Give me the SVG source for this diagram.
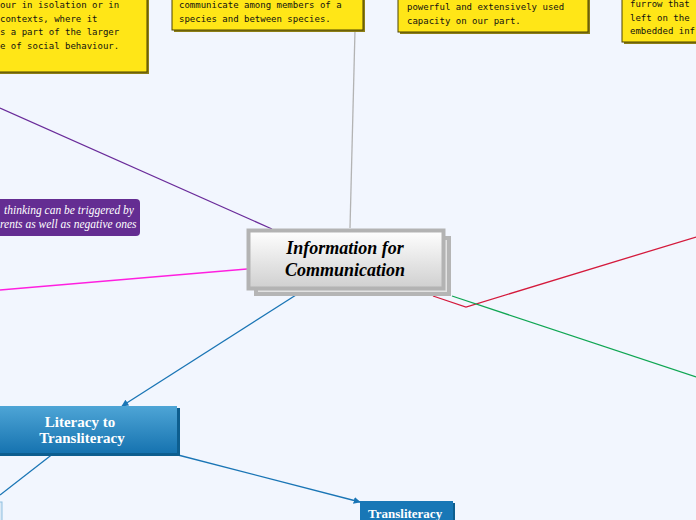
<svg xmlns="http://www.w3.org/2000/svg" width="696" height="520" viewBox="0 0 696 520">
<defs>
<style>
.note{fill:#ffe617;stroke:#4a4200;stroke-width:1}
.noteSh{fill:#8d7f16}
.nt{font-family:"DejaVu Sans Mono","Liberation Mono",monospace;font-size:9px;fill:#111}
.ln{fill:none;stroke-width:1.3}
.ctr{font-family:"Liberation Serif",serif;font-weight:bold;font-style:italic;font-size:18px;fill:#000;text-anchor:middle}
.bt{font-family:"Liberation Serif",serif;font-weight:bold;fill:#fff}
.pt{font-family:"Liberation Serif",serif;font-style:italic;font-size:11.5px;fill:#fff}
</style>
<linearGradient id="gGray" x1="0" y1="0" x2="0" y2="1">
<stop offset="0" stop-color="#ffffff"/>
<stop offset="1" stop-color="#cfcfcf"/>
</linearGradient>
<linearGradient id="gBlue" x1="0" y1="0" x2="0" y2="1">
<stop offset="0" stop-color="#4ea5d6"/>
<stop offset="1" stop-color="#1673b0"/>
</linearGradient>
<marker id="arr" viewBox="0 0 10 10" refX="9" refY="5" markerWidth="7" markerHeight="7" orient="auto" markerUnits="userSpaceOnUse">
<path d="M0,0 L10,5 L0,10 z" fill="#1a75b5"/>
</marker>
</defs>
<rect width="696" height="520" fill="#f2f6fe"/>

<g id="connectors">
<line class="ln" x1="0" y1="108" x2="272" y2="229" stroke="#6a2b9a"/>
<line class="ln" x1="0" y1="290" x2="247" y2="269" stroke="#ff1fe0"/>
<line class="ln" x1="355" y1="30" x2="350" y2="228" stroke="#b3b3b3"/>
<polyline class="ln" points="433,296 466,307 696,237" stroke="#d41a3c"/>
<line class="ln" x1="452" y1="296" x2="696" y2="377" stroke="#10a653"/>
<line class="ln" x1="296" y1="295" x2="122" y2="406" stroke="#1a75b5" marker-end="url(#arr)"/>
<line class="ln" x1="178" y1="455" x2="360" y2="502" stroke="#1a75b5" marker-end="url(#arr)"/>
<line class="ln" x1="54" y1="453" x2="0" y2="495" stroke="#1a75b5"/>
</g>

<g id="note1">
<rect class="noteSh" x="-3" y="-3" width="152" height="77"/>
<rect class="note" x="-5" y="-5" width="152" height="77"/>
<text class="nt" x="0" y="8">our in isolation or in</text>
<text class="nt" x="0" y="21.5"> contexts, where it</text>
<text class="nt" x="0" y="35">s a part of the larger</text>
<text class="nt" x="0" y="48.5">e of social behaviour.</text>
</g>

<g id="note2">
<rect class="noteSh" x="174" y="-3" width="191" height="35"/>
<rect class="note" x="172" y="-5" width="191" height="35"/>
<text class="nt" x="179" y="8">communicate among members of a</text>
<text class="nt" x="179" y="21.5">species and between species.</text>
</g>

<g id="note3">
<rect class="noteSh" x="400" y="-3" width="190" height="37"/>
<rect class="note" x="398" y="-5" width="190" height="37"/>
<text class="nt" x="407" y="10">powerful and extensively used</text>
<text class="nt" x="407" y="23.5">capacity on our part.</text>
</g>

<g id="note4">
<rect class="noteSh" x="624" y="-3" width="80" height="47"/>
<rect class="note" x="622" y="-5" width="80" height="47"/>
<text class="nt" x="630" y="7">furrow that</text>
<text class="nt" x="630" y="20.5">left on the</text>
<text class="nt" x="630" y="34">embedded inf</text>
</g>

<g id="purpleNode">
<rect x="-10" y="199" width="150" height="37" rx="4" fill="#642d92"/>
<text class="pt" x="4" y="214">thinking can be triggered by</text>
<text class="pt" x="0" y="228">rents as well as negative ones</text>
</g>

<g id="center">
<rect x="254" y="236" width="197" height="60" fill="#b5b5b5"/>
<rect x="258" y="240" width="189" height="52" fill="#e2e2e2"/>
<rect x="248.5" y="230.5" width="195" height="58" fill="url(#gGray)" stroke="#b3b3b3" stroke-width="4"/>
<text class="ctr" x="345" y="254">Information for</text>
<text class="ctr" x="345" y="276">Communication</text>
</g>

<g id="literacy">
<rect x="-4" y="408" width="184" height="48" fill="#0d5e8f"/>
<rect x="-6" y="406" width="183" height="47" fill="url(#gBlue)"/>
<text class="bt" x="80" y="427" font-size="15" text-anchor="middle">Literacy to</text>
<text class="bt" x="82" y="443" font-size="15" text-anchor="middle">Transliteracy</text>
</g>

<g id="transliteracy">
<rect x="362" y="503" width="93" height="20" fill="#0d5e8f"/>
<rect x="360" y="501" width="93" height="22" fill="#1877b6"/>
<text class="bt" x="368" y="518" font-size="13">Transliteracy</text>
</g>

<g id="leftNode">
<rect x="-4" y="502" width="6" height="22" fill="#dbe9f5" stroke="#8fbfe0" stroke-width="1"/>
</g>
</svg>
